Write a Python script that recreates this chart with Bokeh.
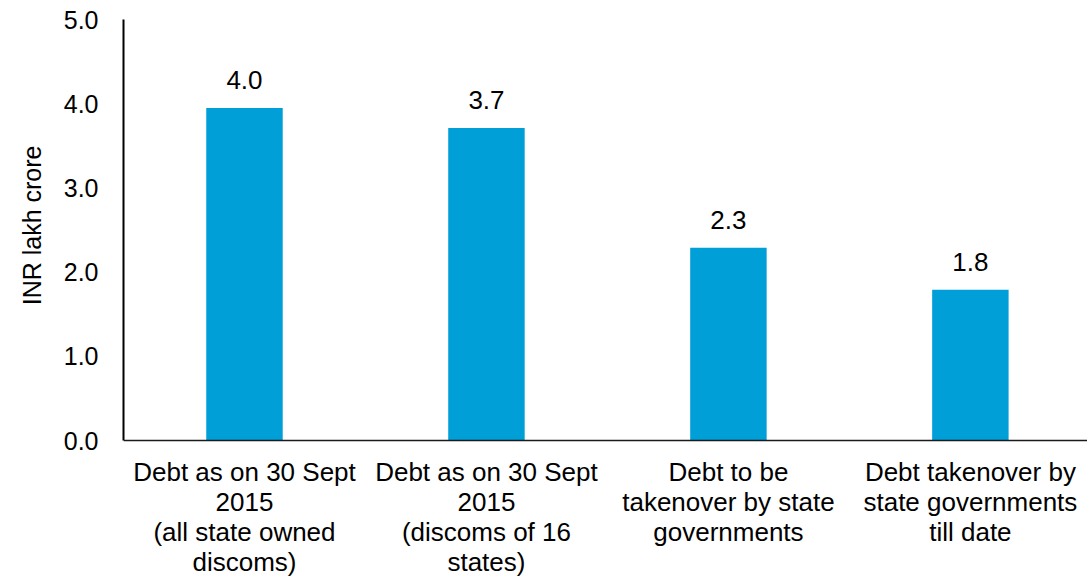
from bokeh.plotting import figure
from bokeh.models import ColumnDataSource, Range1d, FixedTicker, Span, Title
from bokeh.core.properties import value
from bokeh.embed import file_html
from bokeh.resources import INLINE

categories = [
    "Debt as on 30 Sept\n2015\n(all state owned\ndiscoms)",
    "Debt as on 30 Sept\n2015\n(discoms of 16\nstates)",
    "Debt to be\ntakenover by state\ngovernments",
    "Debt takenover by\nstate governments\ntill date",
]
values = [3.95, 3.71, 2.29, 1.79]
value_labels = ["4.0", "3.7", "2.3", "1.8"]
y_ticks = [0, 1, 2, 3, 4, 5]
y_tick_labels = ["0.0", "1.0", "2.0", "3.0", "4.0", "5.0"]
y_title = "INR lakh crore"

FONT = "Liberation Sans"
BAR = "#009FD8"
LINE_STEP = 30
FIRST_BASE = 31

xs = [i + 0.5 for i in range(len(categories))]
src = ColumnDataSource(dict(x=xs, top=values, lab=value_labels))

# category label lines (one row per text line), placed under the zero line
cx, cy, ct, coff = [], [], [], []
for x, c in zip(xs, categories):
    for i, line in enumerate(c.split("\n")):
        cx.append(x)
        cy.append(0)
        ct.append(line)
        coff.append(FIRST_BASE + LINE_STEP * i)
cat_src = ColumnDataSource(dict(x=cx, y=cy, t=ct, off=coff))

p = figure(width=1087, height=578, output_backend="svg", toolbar_location=None,
           x_range=Range1d(0, 3.984), y_range=Range1d(5 - 559 / 84.2, 5),
           min_border_left=119, min_border_right=0, min_border_top=19,
           min_border_bottom=0)
p.outline_line_color = None
p.background_fill_color = "white"
p.border_fill_color = "white"
p.grid.visible = False
p.xaxis.visible = False

p.vbar(x="x", top="top", width=0.316, source=src, fill_color=BAR, line_color=None)
p.text(x="x", y="top", text="lab", source=src, text_align="center",
       text_baseline="alphabetic", y_offset=-28, text_font=value(FONT),
       text_font_size="26px", text_color="#000000")
p.text(x="x", y="y", text="t", y_offset="off", source=cat_src,
       text_align="center", text_baseline="alphabetic",
       text_font=value(FONT), text_font_size="26px", text_color="#000000")

p.add_layout(Span(location=0, dimension="width", line_color="#1a1a1a",
                  line_width=1.5))

ya = p.yaxis[0]
ya.bounds = (0, 5)
ya.ticker = FixedTicker(ticks=y_ticks)
ya.major_label_overrides = {t: l for t, l in zip(y_ticks, y_tick_labels)}
ya.major_tick_line_color = None
ya.minor_tick_line_color = None
ya.axis_line_color = "#000000"
ya.axis_line_width = 2
ya.major_label_text_font = FONT
ya.major_label_text_font_size = "25px"
ya.major_label_text_color = "#000000"
ya.major_label_standoff = 19

p.add_layout(Title(text=y_title, align="right", offset=126,
                   text_font=FONT, text_font_size="25px",
                   text_font_style="normal", text_color="#000000",
                   standoff=30), "left")

open("out.html", "w").write(file_html(p, INLINE))
